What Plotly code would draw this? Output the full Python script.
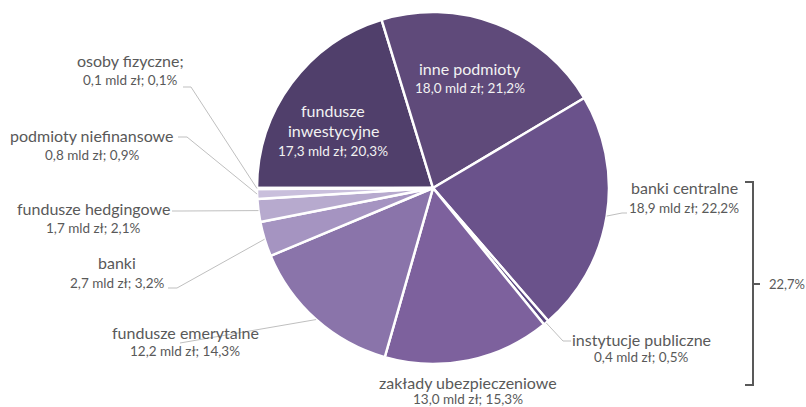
import math
import plotly.graph_objects as go

# Holders of debt, clockwise from 9 o'clock
names = ["fundusze inwestycyjne", "inne podmioty", "banki centralne",
         "instytucje publiczne", "zakłady ubezpieczeniowe", "fundusze emerytalne",
         "banki", "fundusze hedgingowe", "podmioty niefinansowe", "osoby fizyczne"]
amounts_bn = [17.3, 18.0, 18.9, 0.4, 13.0, 12.2, 2.7, 1.7, 0.8, 0.1]
shares_pct = [20.3, 21.2, 22.2, 0.5, 15.3, 14.3, 3.2, 2.1, 0.9, 0.1]
colors = ["#503f6b", "#5f4a7a", "#6a528b", "#5a4681", "#7d619d",
          "#8a74aa", "#a594c1", "#b7aace", "#c9bfdc", "#dcd5e8"]

W, H = 806, 407
CX, CY, R = 433, 188, 176       # pie centre and radius in pixels
START = 270                      # first slice starts at 9 o'clock

TXT = "#595959"
FONT = "Lato"
NAME_SIZE, VALUE_SIZE = 16, 13.5


def px(x):
    return x / W


def py(y):
    return 1 - y / H


def fmt(v):
    return f"{v:.1f}".replace(".", ",")


def value_text(i):
    return f"{fmt(amounts_bn[i])} mld zł; {fmt(shares_pct[i])}%"


# mid-angle of every slice on the rim (clockwise from 12 o'clock)
total = sum(shares_pct)
mids, acc = [], 0.0
for s in shares_pct:
    mids.append(START + (acc + s / 2) / total * 360)
    acc += s


def rim(i):
    a = math.radians(mids[i])
    return CX + R * math.sin(a), CY - R * math.cos(a)


fig = go.Figure(go.Pie(
    labels=names, values=shares_pct, sort=False, direction="clockwise",
    rotation=START - 360, textinfo="none", hoverinfo="label+percent",
    marker=dict(colors=colors, line=dict(color="white", width=2.5)),
    domain=dict(x=[px(CX - R), px(CX + R)], y=[py(CY + R), py(CY - R)]),
    showlegend=False,
))

annotations, shapes = [], []


def label(lines, cx, ys, sizes, color=TXT):
    for t, y, s in zip(lines, ys, sizes):
        annotations.append(dict(
            x=px(cx), y=py(y), xref="paper", yref="paper", text=t,
            showarrow=False, xanchor="center", yanchor="middle",
            font=dict(family=FONT, size=s, color=color)))


# outside labels: (index, centre x, name y, value y, leader start, elbow)
outside = [
    (9, "osoby fizyczne;", 130, 60, 80, (183, 87), (191, 87)),
    (8, "podmioty niefinansowe", 92, 135, 155, (178, 137), (187, 137)),
    (7, "fundusze hedgingowe", 93, 208, 228, (172, 211), (182, 211)),
    (6, "banki", 117, 262, 283, (168, 288), (177, 288)),
    (5, "fundusze emerytalne", 185, 332, 351, (180, 343), (180, 343)),
    (3, "instytucje publiczne", 641, 339, 357, (571, 341), (563, 341)),
    (2, "banki centralne", 684, 187, 208, (627, 213), (622, 213)),
]
for i, name, cx, y1, y2, p0, p1 in outside:
    label([name, value_text(i)], cx, [y1, y2], [NAME_SIZE, VALUE_SIZE])
    ex, ey = rim(i)
    shapes.append(dict(
        type="path", xref="paper", yref="paper",
        path=f"M {px(p0[0])},{py(p0[1])} L {px(p1[0])},{py(p1[1])} L {px(ex)},{py(ey)}",
        line=dict(color="#bfbfbf", width=1)))

# label under the pie without a leader
label([names[4], value_text(4)], 468, [382, 399], [NAME_SIZE, VALUE_SIZE])

# labels inside the two large slices
label([names[1], value_text(1)], 470, [68, 88], [NAME_SIZE, VALUE_SIZE], color="#f2f2f2")
label(["fundusze", "inwestycyjne", value_text(0)], 333, [110, 130, 151],
      [NAME_SIZE, NAME_SIZE, VALUE_SIZE], color="#f2f2f2")

# bracket grouping banki centralne and instytucje publiczne
bx, top, bot, mid = 753, 182, 385, 284
shapes.append(dict(
    type="path", xref="paper", yref="paper",
    path=(f"M {px(745)},{py(top)} L {px(bx)},{py(top)} L {px(bx)},{py(bot)} "
          f"L {px(745)},{py(bot)} M {px(bx)},{py(mid)} L {px(760)},{py(mid)}"),
    line=dict(color=TXT, width=2)))
group_pct = shares_pct[2] + shares_pct[3]
annotations.append(dict(
    x=px(767), y=py(mid), xref="paper", yref="paper", text=f"{fmt(group_pct)}%",
    showarrow=False, xanchor="left", yanchor="middle",
    font=dict(family=FONT, size=13, color=TXT)))

fig.update_layout(
    width=W, height=H, margin=dict(l=0, r=0, t=0, b=0),
    paper_bgcolor="white", plot_bgcolor="white",
    annotations=annotations, shapes=shapes,
)

fig.write_html("out.html")
